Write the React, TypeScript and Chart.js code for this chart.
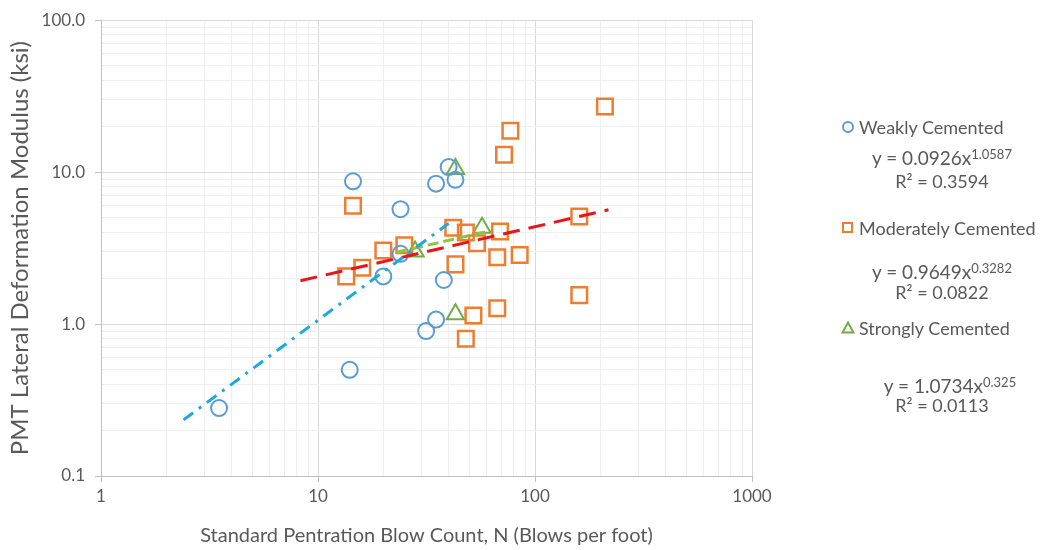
import React, { useEffect, useRef } from 'react';
import { Chart, registerables } from 'chart.js';

Chart.register(...registerables);

// ---- data ----
const weaklyX = [3.5, 14, 14.5, 24, 20, 24, 35, 40, 43, 38, 35, 31.5];
const weaklyY = [0.28, 0.5, 8.7, 5.7, 2.06, 2.9, 8.4, 10.8, 8.9, 1.95, 1.07, 0.9];

const moderatelyX = [14.5, 13.5, 16, 20, 25, 42, 48, 54, 69, 43, 67, 85, 67, 52, 48, 72, 77, 210, 160, 160];
const moderatelyY = [6.0, 2.06, 2.35, 3.05, 3.3, 4.3, 4.0, 3.4, 4.07, 2.47, 2.75, 2.85, 1.27, 1.14, 0.8, 13, 18.7, 27, 5.1, 1.55];

const stronglyX = [43, 28, 57, 43];
const stronglyY = [10.5, 3.0, 4.3, 1.16];

// trendline end points (power-law fits are straight on log-log axes)
const weaklyTrendX = [2.4, 40];
const weaklyTrendY = [0.234, 4.6];
const moderatelyTrendX = [8.3, 218];
const moderatelyTrendY = [1.93, 5.65];
const stronglyTrendX = [23, 60];
const stronglyTrendY = [2.97, 4.06];

const xTickLabels = ['1', '10', '100', '1000'];
const yTickLabels = ['0.1', '1.0', '10.0', '100.0'];
const xDecades = [1, 10, 100, 1000];
const yDecades = [0.1, 1, 10, 100];

const FONT = 'Lato, "Open Sans", sans-serif';
const TEXT = '#595959';

const zip = (xs: number[], ys: number[]) => xs.map((x, i) => ({ x, y: ys[i] }));

const isDecade = (v: number) => Math.abs(Math.log10(v) - Math.round(Math.log10(v))) < 1e-7;

function logTicks(decades: number[]) {
  const out: { value: number; major?: boolean }[] = [];
  for (let i = 0; i < decades.length - 1; i++) {
    for (let d = 1; d <= 9; d++) out.push({ value: d * decades[i], major: d === 1 });
  }
  out.push({ value: decades[decades.length - 1], major: true });
  return out;
}

function labelFor(v: number, decades: number[], labels: string[]) {
  for (let i = 0; i < decades.length; i++) {
    if (Math.abs(v / decades[i] - 1) < 1e-6) return labels[i];
  }
  return '';
}

export default function App() {
  const ref = useRef<HTMLCanvasElement>(null);

  useEffect(() => {
    if (!ref.current) return;
    const gridColor = (ctx: any) => (ctx.tick && isDecade(ctx.tick.value) ? '#d9d9d9' : '#efefef');
    const tickColor = (ctx: any) => (ctx.tick && isDecade(ctx.tick.value) ? '#bfbfbf' : 'rgba(0,0,0,0)');
    const chart = new Chart(ref.current, {
      type: 'scatter',
      data: {
        datasets: [
          {
            label: 'Weakly Cemented',
            data: zip(weaklyX, weaklyY),
            pointStyle: 'circle',
            pointRadius: 8,
            borderColor: '#5B9BD5',
            backgroundColor: 'rgba(0,0,0,0)',
            borderWidth: 2,
            order: 2,
          },
          {
            label: 'Moderately Cemented',
            data: zip(moderatelyX, moderatelyY),
            pointStyle: 'rect',
            pointRadius: 11,
            borderColor: '#ED7D31',
            backgroundColor: 'rgba(0,0,0,0)',
            borderWidth: 2.5,
            order: 2,
          },
          {
            label: 'Strongly Cemented',
            data: zip(stronglyX, stronglyY),
            pointStyle: 'triangle',
            pointRadius: 10,
            borderColor: '#70AD47',
            backgroundColor: 'rgba(0,0,0,0)',
            borderWidth: 2,
            order: 2,
          },
          {
            label: 'Weakly trend',
            data: zip(weaklyTrendX, weaklyTrendY),
            showLine: true,
            pointRadius: 0,
            borderColor: '#1DA9E0',
            borderWidth: 3,
            borderDash: [12, 7, 3, 7],
            order: 0,
          },
          {
            label: 'Moderately trend',
            data: zip(moderatelyTrendX, moderatelyTrendY),
            showLine: true,
            pointRadius: 0,
            borderColor: '#E8141B',
            borderWidth: 3,
            borderDash: [17, 9],
            order: 0,
          },
          {
            label: 'Strongly trend',
            data: zip(stronglyTrendX, stronglyTrendY),
            showLine: true,
            pointRadius: 0,
            borderColor: '#8DC63F',
            borderWidth: 3,
            borderDash: [11, 5],
            order: 0,
          },
        ],
      },
      options: {
        responsive: false,
        animation: false,
        devicePixelRatio: 1,
        layout: { padding: { top: 18, right: 295, bottom: 0, left: 0 } },
        plugins: { legend: { display: false }, tooltip: { enabled: false } },
        scales: {
          x: {
            type: 'logarithmic',
            min: 1,
            max: 1000,
            afterBuildTicks: (s: any) => {
              s.ticks = logTicks(xDecades);
            },
            afterFit: (s: any) => {
              s.height = 74;
            },
            ticks: {
              autoSkip: false,
              maxRotation: 0,
              padding: 4,
              color: TEXT,
              font: { family: FONT, size: 17 },
              callback: (v: any) => labelFor(Number(v), xDecades, xTickLabels),
            },
            grid: { color: gridColor, tickColor: tickColor, tickLength: 6, lineWidth: 1 },
            border: { display: true, color: '#bfbfbf' },
            title: {
              display: true,
              text: 'Standard Pentration Blow Count, N (Blows per foot)',
              color: TEXT,
              font: { family: FONT, size: 20 },
              padding: { top: 0, bottom: 2 },
            },
          },
          y: {
            type: 'logarithmic',
            min: 0.1,
            max: 100,
            afterBuildTicks: (s: any) => {
              s.ticks = logTicks(yDecades);
            },
            afterFit: (s: any) => {
              s.width = 101;
            },
            ticks: {
              autoSkip: false,
              padding: 10,
              color: TEXT,
              font: { family: FONT, size: 17 },
              callback: (v: any) => labelFor(Number(v), yDecades, yTickLabels),
            },
            grid: { color: gridColor, tickColor: tickColor, tickLength: 6, lineWidth: 1 },
            border: { display: true, color: '#bfbfbf' },
            title: {
              display: true,
              text: 'PMT Lateral Deformation Modulus (ksi)',
              color: TEXT,
              font: { family: FONT, size: 24 },
              padding: { top: 6, bottom: 0 },
            },
          },
        },
      },
    } as any);
    return () => chart.destroy();
  }, []);

  const line = (
    top: number,
    left: number,
    width: number,
    content: React.ReactNode,
    align: 'left' | 'center' = 'left',
    size = 18
  ) => (
    <div
      style={{
        position: 'absolute',
        top: top - 12,
        left,
        width,
        height: 24,
        lineHeight: '24px',
        textAlign: align,
        whiteSpace: 'nowrap',
        fontFamily: FONT,
        fontSize: size,
        color: TEXT,
      }}
    >
      {content}
    </div>
  );

  const sup = (t: string) => <sup style={{ fontSize: 13, verticalAlign: 6, lineHeight: 0 }}>{t}</sup>;

  return (
    <div style={{ position: 'absolute', left: 0, top: 0, width: 1047, height: 550, background: '#fff', overflow: 'hidden' }}>
      <canvas ref={ref} width={1047} height={550} style={{ position: 'absolute', left: 0, top: 0, width: 1047, height: 550 }} />
      {/* legend markers */}
      <div style={{ position: 'absolute', left: 842, top: 121, width: 8, height: 8, border: '2px solid #5B9BD5', borderRadius: '50%' }} />
      <div style={{ position: 'absolute', left: 842, top: 222, width: 7, height: 7, border: '2.5px solid #ED7D31' }} />
      <svg style={{ position: 'absolute', left: 841, top: 321 }} width={14} height={13}>
        <polygon points="7,1.5 12.5,11.5 1.5,11.5" fill="none" stroke="#70AD47" strokeWidth={2} />
      </svg>
      {line(127, 859, 180, 'Weakly Cemented')}
      {line(158, 842, 200, <span>y = 0.0926x{sup('1.0587')}</span>, 'center', 19)}
      {line(181, 842, 200, <span>R² = 0.3594</span>, 'center')}
      {line(228, 859, 190, 'Moderately Cemented')}
      {line(272, 842, 200, <span>y = 0.9649x{sup('0.3282')}</span>, 'center', 19)}
      {line(292, 842, 200, <span>R² = 0.0822</span>, 'center')}
      {line(328, 859, 180, 'Strongly Cemented')}
      {line(386, 850, 200, <span>y = 1.0734x{sup('0.325')}</span>, 'center', 19)}
      {line(405, 842, 200, <span>R² = 0.0113</span>, 'center')}
    </div>
  );
}
